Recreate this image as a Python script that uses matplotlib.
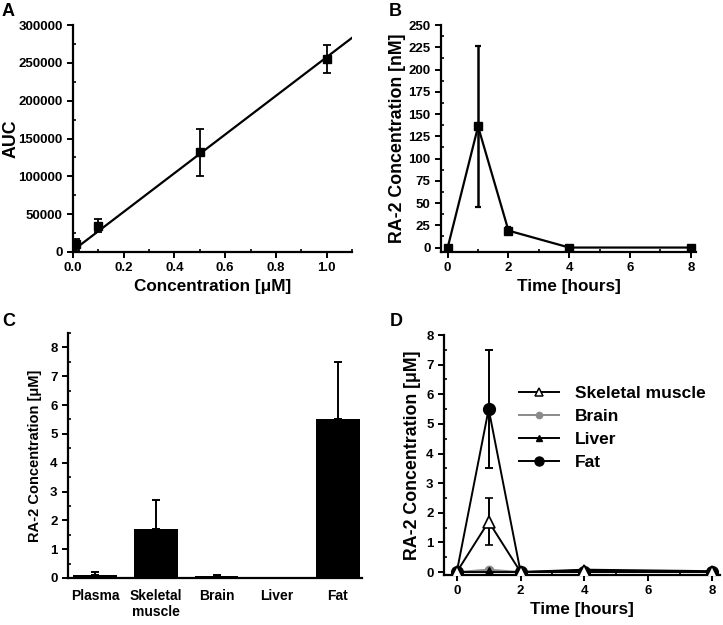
import matplotlib
matplotlib.use("Agg")
import matplotlib.pyplot as plt
from matplotlib.ticker import MultipleLocator
from matplotlib.lines import Line2D
import numpy as np

plt.rcParams['font.family'] = ['Liberation Sans', 'DejaVu Sans']
plt.rcParams['font.weight'] = 'bold'
plt.rcParams['axes.labelweight'] = 'bold'
plt.rcParams['axes.linewidth'] = 1.6
plt.rcParams['xtick.major.width'] = 1.4
plt.rcParams['ytick.major.width'] = 1.4
plt.rcParams['xtick.minor.width'] = 1.2
plt.rcParams['ytick.minor.width'] = 1.2
plt.rcParams['xtick.major.size'] = 4
plt.rcParams['ytick.major.size'] = 4
plt.rcParams['xtick.minor.size'] = 2.5
plt.rcParams['ytick.minor.size'] = 2.5

# --- dane: panel A (krzywa kalibracyjna) ---
conc_a = [0.01, 0.1, 0.5, 1.0]
auc_a = [10000, 35000, 132000, 255000]
auc_err = [7000, 8000, 31000, 18000]
fit_slope = 255500
fit_intercept = 2000

# --- panel B (osocze, nM) ---
time_b = [0, 1, 2, 4, 8]
plasma_nm = [0, 136, 19, 0, 0]
plasma_err = [0, 90, 4, 0, 0]

# --- panel C (tkanki, uM) ---
tissues = ["Plasma", "Skeletal\nmuscle", "Brain", "Liver", "Fat"]
tissue_conc = [0.12, 1.7, 0.08, 0.0, 5.5]
tissue_err = [0.1, 1.0, 0.03, 0.0, 2.0]

# --- panel D (przebieg czasowy w tkankach) ---
time_d = [0, 1, 2, 4, 8]
muscle_d = [0, 1.7, 0, 0.05, 0]
muscle_err = [0, 0.8, 0, 0, 0]
brain_d = [0, 0.08, 0, 0, 0]
liver_d = [0, 0, 0, 0.08, 0.03]
fat_d = [0, 5.5, 0, 0, 0]
fat_err = [0, 2.0, 0, 0, 0]

W, H = 723, 625
fig = plt.figure(figsize=(W / 100, H / 100), dpi=100)


def px_axes(left, right, top, bottom):
    return fig.add_axes([left / W, 1 - bottom / H, (right - left) / W, (bottom - top) / H])


def style(ax):
    ax.spines['top'].set_visible(False)
    ax.spines['right'].set_visible(False)
    ax.tick_params(which='major', direction='out', labelsize=9.5)
    ax.tick_params(which='minor', direction='in')


LABEL_FS = 12.3
YLABEL_FS = 12.8

# A
axA = px_axes(73, 352, 25, 252)
style(axA)
axA.errorbar(conc_a, auc_a, yerr=auc_err, fmt='s', color='black', ms=6,
             capsize=2.6, elinewidth=1.3, capthick=1.3)
xf = np.array([0, 1.1])
axA.plot(xf, fit_slope * xf + fit_intercept, color='black', lw=1.6)
axA.set_xlim(0, 1.1)
axA.set_ylim(0, 300000)
axA.xaxis.set_major_locator(MultipleLocator(0.2))
axA.xaxis.set_minor_locator(MultipleLocator(0.1))
axA.yaxis.set_major_locator(MultipleLocator(50000))
axA.yaxis.set_minor_locator(MultipleLocator(25000))
axA.set_xticklabels([f"{v:.1f}" for v in axA.get_xticks()])
axA.set_xlabel("Concentration [μM]", fontsize=LABEL_FS, labelpad=3)
axA.set_ylabel("AUC", fontsize=YLABEL_FS)
axA.yaxis.set_label_coords(-0.192, 0.5)

# B
axB = px_axes(441, 696, 25, 252)
style(axB)
axB.errorbar(time_b, plasma_nm, yerr=plasma_err, fmt='-s', color='black', ms=6,
             lw=1.6, capsize=2.4, elinewidth=1.8, capthick=1.6)
axB.set_xlim(-0.22, 8.17)
axB.set_ylim(-5, 250)
axB.xaxis.set_major_locator(MultipleLocator(2))
axB.xaxis.set_minor_locator(MultipleLocator(1))
axB.yaxis.set_major_locator(MultipleLocator(25))
axB.yaxis.set_minor_locator(MultipleLocator(12.5))
axB.set_xlabel("Time [hours]", fontsize=LABEL_FS, labelpad=3)
axB.set_ylabel("RA-2 Concentration [nM]", fontsize=YLABEL_FS, labelpad=2)

# C
axC = px_axes(68, 362, 333, 578)
style(axC)
xc = np.arange(len(tissues))
lower = [0] * len(tissues)
axC.bar(xc, tissue_conc, width=0.72, color='black')
axC.errorbar(xc, tissue_conc, yerr=[lower, tissue_err], fmt='none', ecolor='black',
             capsize=2.8, elinewidth=1.4, capthick=1.4)
axC.set_xlim(-0.45, 4.4)
axC.set_ylim(0, 8.5)
axC.set_xticks(xc)
axC.set_xticklabels(tissues, fontsize=10)
axC.tick_params(axis='x', length=0, pad=8)
axC.yaxis.set_major_locator(MultipleLocator(1))
axC.yaxis.set_minor_locator(MultipleLocator(0.5))
axC.set_ylabel("RA-2 Concentration [μM]", fontsize=10.5, labelpad=6)

# D
axD = px_axes(444, 720, 335, 575)
style(axD)
axD.errorbar(time_d, fat_d, yerr=fat_err, fmt='-o', color='black', ms=8.5, lw=1.4,
             capsize=2.8, elinewidth=1.4, capthick=1.4, zorder=3)
axD.errorbar(time_d, muscle_d, yerr=muscle_err, fmt='-^', color='black', mfc='white',
             mec='black', ms=8.5, mew=1.2, lw=1.4, capsize=2.8, elinewidth=1.4,
             capthick=1.4, zorder=4)
axD.plot(time_d, brain_d, '-o', color='#8a8a8a', ms=6, lw=1.4, zorder=2)
axD.plot(time_d, liver_d, '-^', color='black', ms=7, lw=1.4, zorder=2)
axD.set_xlim(-0.4, 8.25)
axD.set_ylim(-0.1, 8)
axD.xaxis.set_major_locator(MultipleLocator(2))
axD.xaxis.set_minor_locator(MultipleLocator(1))
axD.yaxis.set_major_locator(MultipleLocator(1))
axD.yaxis.set_minor_locator(MultipleLocator(0.5))
axD.set_xlabel("Time [hours]", fontsize=LABEL_FS, labelpad=3)
axD.set_ylabel("RA-2 Concentration [μM]", fontsize=YLABEL_FS, labelpad=4)

leg_handles = [
    Line2D([], [], color='black', lw=1.4, marker='^', mfc='white', mec='black', ms=6, mew=1.1),
    Line2D([], [], color='#8a8a8a', lw=1.4, marker='o', ms=4.5),
    Line2D([], [], color='black', lw=1.4, marker='^', ms=5),
    Line2D([], [], color='black', lw=1.4, marker='o', ms=6.5),
]
leg_labels = ["Skeletal muscle", "Brain", "Liver", "Fat"]
axD.legend(leg_handles, leg_labels, loc='upper left', bbox_to_anchor=(0.272, 0.787),
           frameon=False, borderpad=0, borderaxespad=0, fontsize=12.5,
           handlelength=2.3, handletextpad=0.9, labelspacing=0.45)

# litery paneli
for letter, (x, y) in zip("ABCD", [(2, 3), (389, 3), (2, 313), (390, 313)]):
    fig.text(x / W, 1 - y / H, letter, fontsize=13, fontweight='bold', va='top', ha='left')

fig.savefig("out.png", dpi=100)
